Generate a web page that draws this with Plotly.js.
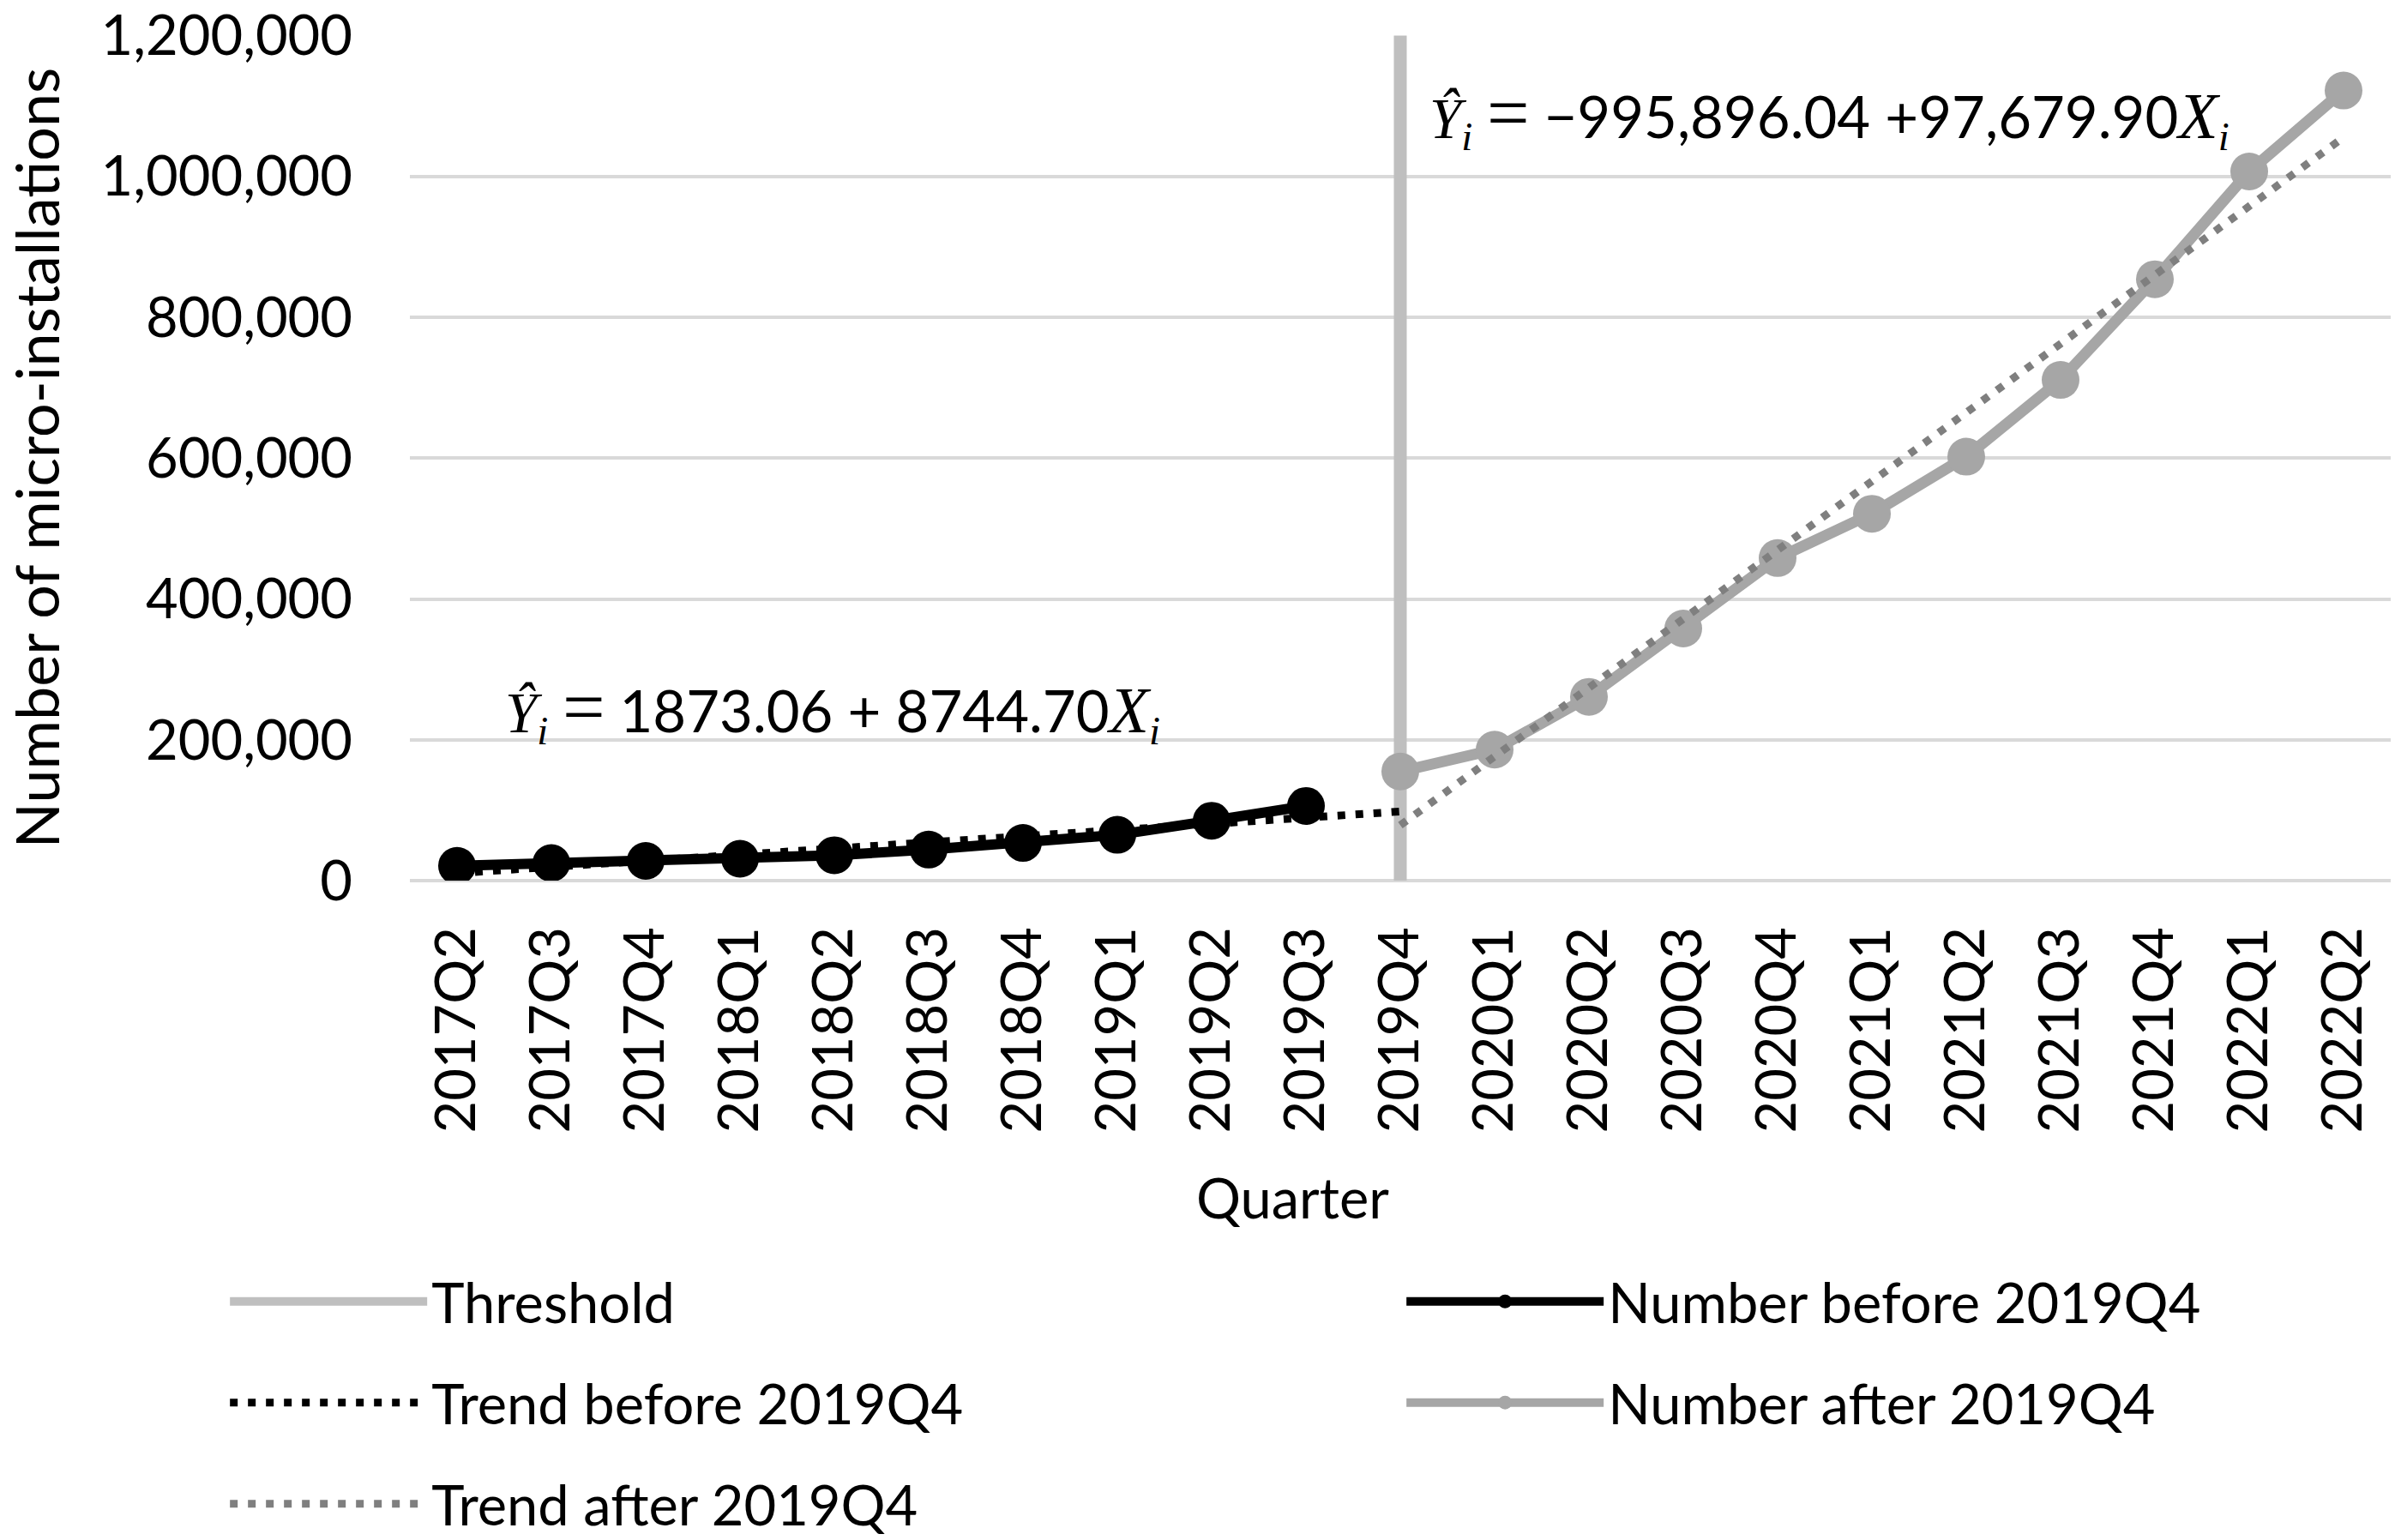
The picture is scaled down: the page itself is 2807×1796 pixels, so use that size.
<!DOCTYPE html>
<html>
<head>
<meta charset="utf-8">
<script src="https://cdn.plot.ly/plotly-3.0.1.min.js"></script>
<style>html,body{margin:0;padding:0;background:#fff;}</style>
</head>
<body>
<div id="chart" style="width:2807px;height:1796px;"></div>
<script>
// Categories
var quarters = ["2017Q2","2017Q3","2017Q4","2018Q1","2018Q2","2018Q3","2018Q4","2019Q1","2019Q2","2019Q3",
                "2019Q4","2020Q1","2020Q2","2020Q3","2020Q4","2021Q1","2021Q2","2021Q3","2021Q4","2022Q1","2022Q2"];
var beforeQuarters = ["2017Q2","2017Q3","2017Q4","2018Q1","2018Q2","2018Q3","2018Q4","2019Q1","2019Q2","2019Q3"];
var trendBeforeQuarters = ["2017Q2","2017Q3","2017Q4","2018Q1","2018Q2","2018Q3","2018Q4","2019Q1","2019Q2","2019Q3","2019Q4"];
var afterQuarters = ["2019Q4","2020Q1","2020Q2","2020Q3","2020Q4","2021Q1","2021Q2","2021Q3","2021Q4","2022Q1","2022Q2"];

// Series values
var numberBefore = [21000, 25000, 28000, 31000, 36000, 44000, 53500, 65000, 85000, 106000];
var numberAfter = [155000, 186000, 261000, 358000, 458000, 521000, 602000, 711000, 854000, 1007000, 1122000];
var trendBefore = [10600, 19400, 28100, 36800, 45600, 54300, 63100, 71800, 80600, 89300, 98100];
var trendAfter = [78600, 176300, 274000, 371700, 469300, 567000, 664700, 762400, 860100, 957800, 1055400];
var thresholdQuarter = ["2019Q4", "2019Q4"];
var thresholdValue = [0, 1200000];

// Tick values
var yTickVals = [0, 200000, 400000, 600000, 800000, 1000000, 1200000];

// Text
var SERIF = 'font-family:Liberation Serif';
var eqBefore = '<span style="' + SERIF + '"><i>Y\u0302</i><sub><i>i</i></sub> <span style="font-size:88px">=</span> </span>1873.06 + 8744.70<span style="' + SERIF + ';font-size:76px"><i>X</i></span><span style="' + SERIF + '"><sub><i>i</i></sub></span>';
var eqAfter = '<span style="' + SERIF + '"><i>Y\u0302</i><sub><i>i</i></sub> <span style="font-size:88px">=</span> </span>\u2212995,896.04 +97,679.90<span style="' + SERIF + ';font-size:76px"><i>X</i></span><span style="' + SERIF + '"><sub><i>i</i></sub></span>';

var FONT = 'Lato, "Open Sans", sans-serif';

var traces = [
  {
    type: 'scatter', mode: 'lines', name: 'Threshold', x: thresholdQuarter, y: thresholdValue,
    line: {color: '#bfbfbf', width: 15},
    hoverinfo: 'skip', legend: 'legend'
  },
  {
    type: 'scatter', mode: 'lines+markers', name: 'Number before 2019Q4',
    x: beforeQuarters, y: numberBefore,
    line: {color: '#000000', width: 12},
    marker: {color: '#000000', size: 44}, legend: 'legend'
  },
  {
    type: 'scatter', mode: 'lines', name: 'Trend before 2019Q4',
    x: trendBeforeQuarters, y: trendBefore,
    line: {color: '#000000', width: 9, dash: '9px,12px'}, legend: 'legend2'
  },
  {
    type: 'scatter', mode: 'lines+markers', name: 'Number after 2019Q4',
    x: afterQuarters, y: numberAfter,
    line: {color: '#a6a6a6', width: 13},
    marker: {color: '#a6a6a6', size: 44}, legend: 'legend2'
  },
  {
    type: 'scatter', mode: 'lines', name: 'Trend after 2019Q4',
    x: afterQuarters, y: trendAfter,
    line: {color: '#7f7f7f', width: 9, dash: '9px,12px'}, legend: 'legend3'
  }
];

function legendCfg(yPos) {
  return {
    orientation: 'h', x: -0.093, xanchor: 'left', y: yPos, yanchor: 'middle',
    entrywidth: 1127, entrywidthmode: 'pixels', itemwidth: 230,
    traceorder: 'normal',
    font: {family: FONT, size: 65, color: '#000000'},
    bgcolor: 'rgba(0,0,0,0)'
  };
}

var layout = {
  width: 2807, height: 1796,
  margin: {l: 478, r: 19, t: 41, b: 769, autoexpand: false},
  paper_bgcolor: '#ffffff', plot_bgcolor: '#ffffff',
  font: {family: FONT, size: 65, color: '#000000'},
  showlegend: true,
  xaxis: {
    type: 'category', categoryorder: 'array', categoryarray: quarters,
    range: [-0.5, 20.5], tickangle: -90, showgrid: false, showline: false,
    zeroline: false, ticks: '', ticklabelstandoff: 40, automargin: false,
    tickfont: {family: FONT, size: 65, color: '#000000'}
  },
  yaxis: {
    range: [0, 1200600], tickmode: 'array', tickvals: yTickVals, tickformat: ',',
    showgrid: true, gridcolor: '#d9d9d9', gridwidth: 4,
    zeroline: true, zerolinecolor: '#d9d9d9', zerolinewidth: 4,
    showline: false, ticks: '', ticklabelstandoff: 66, automargin: false,
    tickfont: {family: FONT, size: 65, color: '#000000'},
    title: {text: 'Number of micro-installations', font: {family: FONT, size: 70, color: '#000000'}, standoff: 34}
  },
  legend: legendCfg(-0.498),
  legend2: legendCfg(-0.6176),
  legend3: legendCfg(-0.7373),
  annotations: [
    {xref: 'paper', yref: 'y', x: 0.047, y: 243000, xanchor: 'left', yanchor: 'middle',
     text: eqBefore, showarrow: false, font: {family: FONT, size: 67, color: '#000000'}},
    {xref: 'paper', yref: 'y', x: 0.514, y: 1087000, xanchor: 'left', yanchor: 'middle',
     text: eqAfter, showarrow: false, font: {family: FONT, size: 67, color: '#000000'}},
    {xref: 'paper', yref: 'paper', x: 0.4455, y: -0.374, xanchor: 'center', yanchor: 'middle',
     text: 'Quarter', showarrow: false, font: {family: FONT, size: 65, color: '#000000'}}
  ]
};

Plotly.newPlot('chart', traces, layout, {displayModeBar: false, staticPlot: true});
</script>
</body>
</html>
